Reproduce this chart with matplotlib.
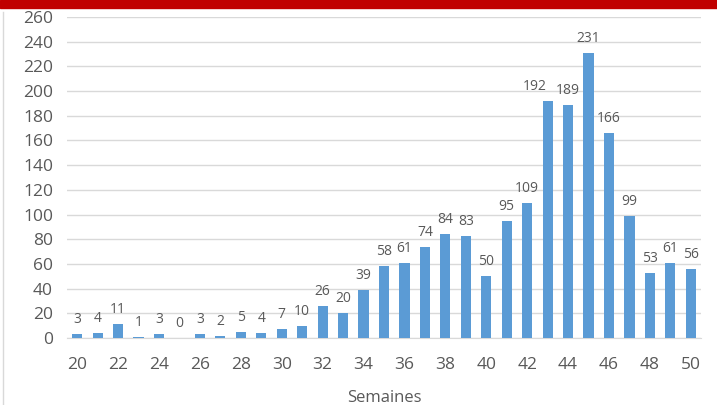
import matplotlib
matplotlib.use("Agg")
import matplotlib.pyplot as plt
from matplotlib.patches import Rectangle
from matplotlib.lines import Line2D

weeks = list(range(20, 51))
counts = [3, 4, 11, 1, 3, 0, 3, 2, 5, 4, 7, 10, 26, 20, 39, 58, 61, 74, 84, 83,
          50, 95, 109, 192, 189, 231, 166, 99, 53, 61, 56]
y_ticks = list(range(0, 261, 20))
x_ticks = list(range(20, 51, 2))
x_label = "Semaines"

bar_color = "#5B9BD5"
text_color = "#595959"
grid_color = "#D9D9D9"

plt.rcParams["font.family"] = ["Open Sans", "DejaVu Sans"]

fig = plt.figure(figsize=(7.17, 4.05), dpi=100)
ax = fig.add_axes([0.0934, 0.1654, 0.8843, 0.7926])

ax.bar(weeks, counts, width=0.5, color=bar_color, zorder=3)
# label offsets (points) nudged where neighbouring labels would collide
nudge = {43: -9}
for w, c in zip(weeks, counts):
    ax.annotate(str(c), (w, c), xytext=(nudge.get(w, 0), 5), textcoords="offset points",
                ha="center", va="bottom", fontsize=10, color=text_color)

ax.set_xlim(19.5, 50.5)
ax.set_ylim(0, 260)
ax.set_yticks(y_ticks)
ax.set_xticks(x_ticks)
ax.tick_params(axis="both", length=0, labelsize=12.5, colors=text_color)
ax.tick_params(axis="x", pad=14)
ax.tick_params(axis="y", pad=10)
ax.grid(axis="y", color=grid_color, linewidth=1, zorder=0)
for s in ("top", "right", "left"):
    ax.spines[s].set_visible(False)
ax.spines["bottom"].set_color(grid_color)
ax.set_xlabel(x_label, fontsize=12, color=text_color, labelpad=12)

# red header band and thin left rule
fig.add_artist(Rectangle((0, 1 - 7.5 / 405), 1, 7.5 / 405, transform=fig.transFigure,
                         color="#C00000", zorder=10))
fig.add_artist(Line2D([3 / 717, 3 / 717], [0, 1 - 12 / 405], transform=fig.transFigure,
                      color="#D9D9D9", linewidth=1))

fig.savefig("out.png", dpi=100)
